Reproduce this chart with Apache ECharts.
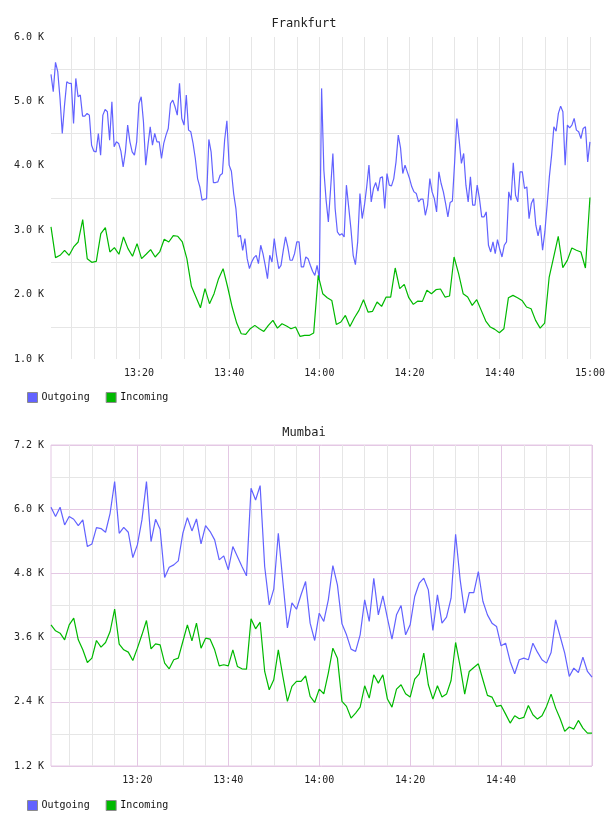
<!DOCTYPE html>
<html>
<head>
<meta charset="utf-8">
<script src="https://cdn.jsdelivr.net/npm/echarts@6/dist/echarts.min.js"></script>
<style>
html,body{margin:0;padding:0;background:#fff;}
#chart{width:608px;height:816px;}
</style>
</head>
<body>
<div id="chart"></div>
<script>
// ---- Frankfurt (top) ----
// Outgoing sampled every 30 s from 13:00:30 to 15:00:00
var frankfurtOutgoing = [
5420,5150,5606,5461,5046,4502,4943,5305,5280,5280,
4657,5357,5072,5098,4772,4772,4813,4787,4320,4227,
4217,4502,4165,4787,4875,4839,4398,4994,4295,4372,
4347,4227,3984,4217,4631,4372,4217,4165,4372,4968,
5072,4683,4010,4320,4606,4320,4502,4372,4372,4113,
4347,4476,4580,4968,5020,4917,4787,5280,4735,4632,
5098,4554,4528,4347,4113,3802,3673,3465,3481,3491,
4409,4217,3740,3740,3750,3854,3880,4400,4700,4010,
3916,3569,3336,2895,2921,2688,2870,2558,2403,2507,
2574,2610,2481,2766,2636,2455,2247,2610,2507,2870,
2610,2403,2455,2688,2895,2740,2533,2533,2636,2818,
2818,2429,2429,2584,2558,2455,2362,2299,2455,2247,
5202,3932,3465,3129,3647,4191,3336,2973,2921,2947,
2895,3699,3362,3025,2610,2465,2818,3569,3181,3388,
3673,4010,3440,3647,3740,3606,3813,3828,3336,3880,
3699,3688,3802,4061,4476,4279,3880,4010,3906,3802,
3673,3595,3569,3440,3481,3481,3232,3388,3802,3595,
3491,3284,3906,3725,3595,3414,3206,3430,3455,4061,
4735,4399,4036,4191,3699,3440,3828,3388,3388,3699,
3491,3206,3206,3284,2766,2662,2818,2636,2854,2704,
2584,2766,2818,3595,3465,4046,3543,3440,3906,3906,
3647,3673,3180,3414,3491,3077,2911,3077,2688,2973,
3388,3828,4165,4606,4538,4813,4927,4839,4010,4632,
4590,4632,4735,4554,4528,4424,4580,4606,4061,4372
];
// Incoming sampled every minute
var frankfurtIncoming = [
3051,2574,2610,2688,2610,2740,2817,3165,2558,2501,
2517,2947,3040,2662,2729,2626,2895,2714,2595,2792,
2558,2626,2698,2584,2662,2859,2817,2916,2906,2817,
2558,2128,1962,1796,2092,1859,2014,2247,2403,2118,
1807,1558,1392,1382,1470,1522,1470,1428,1522,1600,
1480,1548,1511,1470,1496,1351,1366,1366,1403,2299,
2014,1952,1910,1537,1574,1677,1506,1641,1755,1921,
1729,1740,1885,1817,1962,1962,2413,2092,2159,1952,
1848,1900,1895,2066,2014,2076,2087,1962,1978,2584,
2325,2014,1962,1833,1921,1755,1589,1496,1460,1408,
1470,1952,1988,1952,1910,1807,1781,1600,1480,1558,
2273,2584,2906,2418,2532,2724,2688,2662,2413,3507
];

// ---- Mumbai (bottom) ---- sampled every minute 13:01 .. 15:00
var mumbaiOutgoing = [
6036,5862,6036,5706,5862,5812,5694,5800,5302,5351,
5656,5638,5569,5924,6515,5550,5662,5569,5096,5333,
5800,6515,5395,5812,5625,4723,4916,4959,5034,5550,
5843,5594,5818,5351,5694,5582,5426,5052,5127,4866,
5302,5115,4928,4754,6391,6173,6441,4928,4212,4505,
5550,4648,3780,4250,4130,4400,4648,3870,3546,4056,
3901,4306,4947,4586,3857,3652,3384,3341,3652,4306,
3901,4710,4025,4380,3963,3571,4025,4200,3652,3839,
4368,4617,4710,4492,3733,4399,3870,3982,4337,5532,
4679,4056,4442,4442,4835,4280,4025,3870,3808,3446,
3496,3154,2924,3185,3216,3185,3496,3328,3185,3123,
3322,3932,3621,3310,2874,3029,2948,3235,2967,2861
];
var mumbaiIncoming = [
3839,3727,3683,3559,3839,3963,3559,3372,3135,3216,
3546,3422,3509,3714,4131,3478,3372,3328,3173,3403,
3652,3920,3390,3484,3465,3123,3017,3185,3216,3527,
3839,3540,3870,3403,3590,3571,3372,3073,3092,3073,
3372,3061,3017,3011,3951,3764,3888,2967,2625,2812,
3372,2874,2407,2687,2780,2780,2886,2500,2388,2637,
2550,2936,3403,3216,2407,2314,2096,2189,2301,2700,
2469,2905,2749,2905,2451,2301,2637,2718,2550,2488,
2824,2924,3310,2718,2451,2700,2488,2544,2799,3509,
3061,2544,2967,3042,3110,2812,2519,2488,2314,2332,
2170,2002,2139,2083,2108,2332,2158,2077,2139,2314,
2544,2282,2083,1847,1928,1890,2052,1909,1816,1816
];

// tick labels
var topTimeLabels = ['13:20','13:40','14:00','14:20','14:40','15:00'];
var bottomTimeLabels = ['13:20','13:40','14:00','14:20','14:40'];
var seriesNames = ['Outgoing','Incoming'];

// categories (time stamps)
function pad(n){return (n<10?'0':'')+n;}
function timeCats(startSec, stepSec, count){
  var out=[];
  for(var i=0;i<count;i++){
    var s=startSec+i*stepSec;
    out.push(pad(Math.floor(s/3600))+':'+pad(Math.floor(s/60)%60)+':'+pad(s%60));
  }
  return out;
}
var topCats30s = timeCats(13*3600+30, 30, frankfurtOutgoing.length);
var topCats1m = timeCats(13*3600+60, 60, frankfurtIncoming.length);
var bottomCats = timeCats(13*3600+60, 60, mumbaiOutgoing.length);

var FONT = 'DejaVu Sans Mono';
var BLUE = '#6262ff';
var GREEN = '#00b900';
var GRAY = '#e6e6e6';
var PURPLE = '#e4c8e4';

function isFiveMin(v){ var p=v.split(':'); return p[2]==='00' && (+p[1])%5===0; }
function hm(v){ return v.substr(0,5); }

var chart = echarts.init(document.getElementById('chart'), null, {renderer:'canvas'});
chart.setOption({
  animation:false,
  backgroundColor:'#fff',
  title:[
    {text:'Frankfurt', left:'center', top:13, textStyle:{fontFamily:FONT, fontSize:12, fontWeight:'normal', color:'#222'}},
    {text:'Mumbai', left:'center', top:422, textStyle:{fontFamily:FONT, fontSize:12, fontWeight:'normal', color:'#222'}}
  ],
  legend:[
    {data:seriesNames, left:22, top:387, icon:'rect', itemWidth:10, itemHeight:10, itemGap:16,
     textStyle:{fontFamily:FONT, fontSize:10, color:'#111', padding:[0,0,0,-1]},
     itemStyle:{borderColor:'#8c8c8c', borderWidth:1}, lineStyle:{width:0}},
    {data:seriesNames, left:22, top:795, icon:'rect', itemWidth:10, itemHeight:10, itemGap:16,
     textStyle:{fontFamily:FONT, fontSize:10, color:'#111', padding:[0,0,0,-1]},
     itemStyle:{borderColor:'#8c8c8c', borderWidth:1}, lineStyle:{width:0}}
  ],
  grid:[
    {left:51, top:37, width:540, height:322, show:false},
    {left:51, top:445, width:541, height:321, show:true, borderColor:PURPLE, borderWidth:1, backgroundColor:'transparent'}
  ],
  xAxis:[
    {type:'category', gridIndex:0, data:topCats30s, boundaryGap:false,
     axisLine:{show:false}, axisTick:{show:false},
     axisLabel:{interval:function(i,v){return topTimeLabels.indexOf(hm(v))>=0 && v.substr(6)==='00';},
       formatter:function(v){return hm(v);}, fontFamily:FONT, fontSize:10, color:'#222', margin:9},
     splitLine:{show:true, interval:function(i,v){return isFiveMin(v);}, lineStyle:{color:GRAY, width:1}}},
    {type:'category', gridIndex:0, data:topCats1m, boundaryGap:false, show:false},
    {type:'category', gridIndex:1, data:bottomCats, boundaryGap:false,
     axisLine:{show:false}, axisTick:{show:false},
     axisLabel:{interval:function(i,v){return bottomTimeLabels.indexOf(hm(v))>=0;},
       formatter:function(v){return hm(v);}, fontFamily:FONT, fontSize:10, color:'#222', margin:9},
     splitLine:{show:true, interval:function(i,v){return isFiveMin(v);}, lineStyle:{color:[GRAY,GRAY,GRAY,PURPLE], width:1}}}
  ],
  yAxis:[
    {type:'value', gridIndex:0, min:1000, max:6000, interval:500,
     axisLine:{show:false}, axisTick:{show:false},
     axisLabel:{formatter:function(v){return v%1000===0?(v/1000).toFixed(1)+' K':'';}, fontFamily:FONT, fontSize:10, color:'#222', margin:7},
     splitLine:{show:true, lineStyle:{color:['rgba(0,0,0,0)',GRAY], width:1}}},
    {type:'value', gridIndex:1, min:1200, max:7200, interval:600,
     axisLine:{show:false}, axisTick:{show:false},
     axisLabel:{formatter:function(v){return v%1200===0?(v/1000).toFixed(1)+' K':'';}, fontFamily:FONT, fontSize:10, color:'#222', margin:7},
     splitLine:{show:true, lineStyle:{color:[PURPLE,GRAY], width:1}}}
  ],
  series:[
    {name:'Outgoing', type:'line', xAxisIndex:0, yAxisIndex:0, data:frankfurtOutgoing, showSymbol:false, symbol:'none',
     lineStyle:{color:BLUE, width:1.2}, itemStyle:{color:BLUE}},
    {name:'Incoming', type:'line', xAxisIndex:1, yAxisIndex:0, data:frankfurtIncoming, showSymbol:false, symbol:'none',
     lineStyle:{color:GREEN, width:1.2}, itemStyle:{color:GREEN}},
    {name:'Outgoing', type:'line', xAxisIndex:2, yAxisIndex:1, data:mumbaiOutgoing, showSymbol:false, symbol:'none',
     lineStyle:{color:BLUE, width:1.2}, itemStyle:{color:BLUE}},
    {name:'Incoming', type:'line', xAxisIndex:2, yAxisIndex:1, data:mumbaiIncoming, showSymbol:false, symbol:'none',
     lineStyle:{color:GREEN, width:1.2}, itemStyle:{color:GREEN}}
  ]
});
</script>
</body>
</html>
